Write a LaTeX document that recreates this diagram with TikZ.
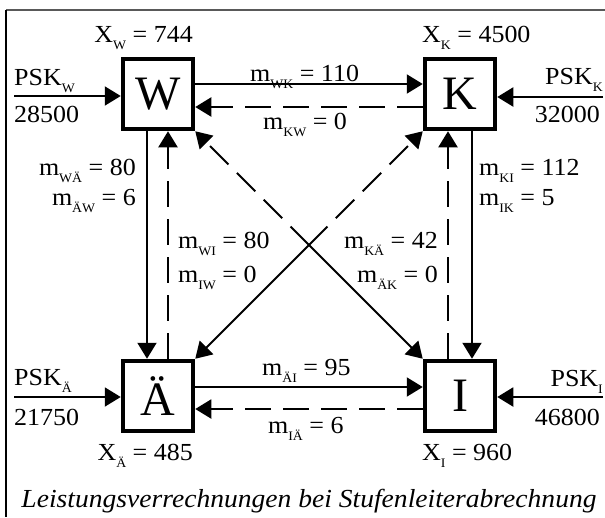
\documentclass[tikz,border=0pt]{standalone}
\usepackage{fontspec}
\setmainfont{Liberation Serif}[FakeStretch=1.06]
\newfontfamily\boxfont{Liberation Serif}
\usetikzlibrary{arrows.meta}
\newcommand\sbs[1]{\raisebox{-7pt}{\fontsize{13}{13}\selectfont #1}}
\tikzset{
 box/.style={draw, line width=4.5pt, minimum size=70pt, inner sep=0pt, font=\boxfont\fontsize{48}{48}\selectfont},
 lab/.style={inner sep=0pt, font=\fontsize{24.5}{25}\selectfont},
 conn/.style={line width=2pt, -{Triangle[length=16pt,width=19pt]}},
 dconn/.style={conn, dash pattern=on 26pt off 12pt},
}
\begin{document}
\begin{tikzpicture}[x=1pt,y=-1pt]
\useasboundingbox (0,0) rectangle (605,517);
% frame
\draw[gray!70!black, line width=1.5pt] (6,10) -- (605,10);
\draw[line width=1.5pt] (6,10) -- (6,517);
% boxes
\node[box] (W) at (158,94) {W};
\node[box] (K) at (460,94) {K};
\node[box] (A) at (158,396) {Ä};
\node[box] (I) at (460,396) {I};
\coordinate (C) at (309,245);
% external inputs
\coordinate (pW) at (14,96);
\coordinate (pK) at (603,97);
\coordinate (pA) at (14,397);
\coordinate (pI) at (603,397);
\draw[conn] (pW) -- (pW -| W.west);
\draw[conn] (pK) -- (pK -| K.east);
\draw[conn] (pA) -- (pA -| A.west);
\draw[conn] (pI) -- (pI -| I.east);
% horizontal
\draw[conn] ([yshift=10pt]W.east) -- ([yshift=10pt]K.west);
\draw[dconn] ([yshift=-13pt]K.west) -- ([yshift=-13pt]W.east);
\draw[conn] ([yshift=9pt]A.east) -- ([yshift=9pt]I.west);
\draw[dconn] ([yshift=-13pt]I.west) -- ([yshift=-13pt]A.east);
% vertical
\draw[conn] ([xshift=-11pt]W.south) -- ([xshift=-11pt]A.north);
\draw[dconn] ([xshift=10pt]A.north) -- ([xshift=10pt]W.south);
\draw[conn] ([xshift=12pt]K.south) -- ([xshift=12pt]I.north);
\draw[dconn] ([xshift=-12pt]I.north) -- ([xshift=-12pt]K.south);
% diagonals
\draw[dconn] (C) -- (W.south east);
\draw[dconn] (C) -- (K.south west);
\draw[conn] (C) -- (I.north west);
\draw[conn] (C) -- (A.north east);
% labels
\node[lab, anchor=base east] (xw) at (193,42) {X\sbs{W} = 744};
\node[lab, anchor=base west] (xk) at (422,42) {X\sbs{K} = 4500};
\node[lab, anchor=base east] (xa) at (193,460) {X\sbs{Ä} = 485};
\node[lab, anchor=base west] (xi) at (422,460) {X\sbs{I} = 960};
\node[lab, anchor=base west] (psw) at (14,85) {PSK\sbs{W}};
\node[lab, anchor=base west] (vw) at (14,122) {28500};
\node[lab, anchor=base east] (psk) at (603,84) {PSK\sbs{K}};
\node[lab, anchor=base east] (vk) at (600,122) {32000};
\node[lab, anchor=base west] (psa) at (14,385) {PSK\sbs{Ä}};
\node[lab, anchor=base west] (va) at (14,425) {21750};
\node[lab, anchor=base east] (psi) at (603,386) {PSK\sbs{I}};
\node[lab, anchor=base east] (vi) at (600,425) {46800};
\node[lab, anchor=base west] (mwk) at (250,81) {m\sbs{WK} = 110};
\node[lab, anchor=base west] (mkw) at (263,129) {m\sbs{KW} = 0};
\node[lab, anchor=base east] (mwa) at (136,175) {m\sbs{WÄ} = 80};
\node[lab, anchor=base east] (maw) at (136,205) {m\sbs{ÄW} = 6};
\node[lab, anchor=base west] (mki) at (479,175) {m\sbs{KI} = 112};
\node[lab, anchor=base west] (mik) at (479,205) {m\sbs{IK} = 5};
\node[lab, anchor=base west] (mwi) at (178,248) {m\sbs{WI} = 80};
\node[lab, anchor=base west] (miw) at (178,282) {m\sbs{IW} = 0};
\node[lab, anchor=base east] (mka) at (438,248) {m\sbs{KÄ} = 42};
\node[lab, anchor=base east] (mak) at (438,282) {m\sbs{ÄK} = 0};
\node[lab, anchor=base west] (mai) at (262,375) {m\sbs{ÄI} = 95};
\node[lab, anchor=base west] (mia) at (268,433) {m\sbs{IÄ} = 6};
\node[lab, anchor=base, font=\itshape\fontsize{26}{27}\selectfont] (cap) at (309,507) {Leistungsverrechnungen bei Stufenleiterabrechnung};
\end{tikzpicture}
\end{document}
